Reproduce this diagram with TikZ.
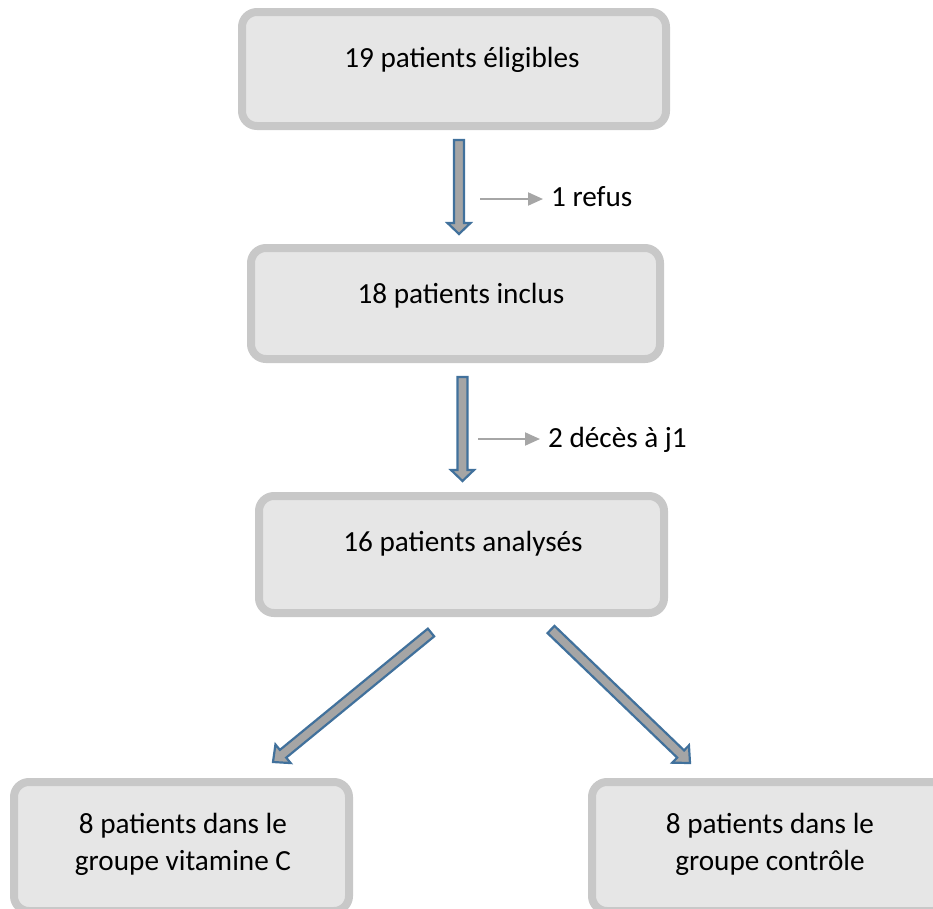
\documentclass[tikz,border=0pt]{standalone}
\usepackage{fontspec}
\setmainfont{Carlito}
\usetikzlibrary{calc,arrows.meta}
\definecolor{boxborder}{HTML}{C8C8C8}
\definecolor{boxfill}{HTML}{E6E6E6}
\definecolor{arrfill}{HTML}{A5A5A5}
\definecolor{arrline}{HTML}{41719C}
\definecolor{sidegray}{HTML}{A6A6A6}
\newcommand{\blockarr}[5]{%
  \coordinate (bah) at ($(#2)!#5!(#1)$);
  \filldraw[blockarrow] ($(#1)!#3!90:(#2)$) -- ($(bah)!#3!90:(#2)$) -- ($(bah)!#4!90:(#2)$) -- (#2) -- ($(bah)!#4!-90:(#2)$) -- ($(bah)!#3!-90:(#2)$) -- ($(#1)!#3!-90:(#2)$) -- cycle;
}
\begin{document}
\begin{tikzpicture}[x=1pt,y=-1pt,
  box/.style={draw=boxborder, fill=boxfill, line width=8pt, rounded corners=15pt, inner sep=0pt, outer sep=0pt, rectangle},
  txt/.style={font=\fontsize{29.2}{36.7}\selectfont, inner sep=0pt, text=black, align=center},
  blockarrow/.style={fill=arrfill, draw=arrline, line width=2.2pt, line join=miter},
  sidearrow/.style={draw=sidegray, line width=2pt, -{Triangle[length=15pt,width=13pt]}},
  ]
\useasboundingbox (0,0) rectangle (933,908);
\clip (0,0) rectangle (933,908);
% boxes
\node[box, minimum width=424pt, minimum height=114pt] (b1) at (454,69) {};
\node[box, minimum width=409pt, minimum height=111pt] (b2) at (455.5,303.5) {};
\node[box, minimum width=405pt, minimum height=117pt] (b3) at (461.5,554.5) {};
\node[box, minimum width=335pt, minimum height=129pt] (b4) at (181.5,846.5) {};
\node[box, minimum width=356pt, minimum height=129pt] (b5) at (770,846.5) {};
% texts
\node[txt, anchor=base] (t1) at (462,67) {19 patients éligibles};
\node[txt, anchor=base] (t2) at (461,303) {18 patients inclus};
\node[txt, anchor=base] (t3) at (463,551) {16 patients analysés};
\node[txt, anchor=base] (t4) at (183,870.5) {8 patients dans le\\groupe vitamine C};
\node[txt, anchor=base] (t5) at (770,870.5) {8 patients dans le\\groupe contrôle};
% block arrows
\coordinate (a1s) at (459,140);
\coordinate (a1t) at (459,234);
\blockarr{a1s}{a1t}{5pt}{11.5pt}{11pt}
\coordinate (a2s) at (462.5,377);
\coordinate (a2t) at (462.5,481);
\blockarr{a2s}{a2t}{5pt}{11.5pt}{11pt}
\coordinate (a3s) at (431,632.5);
\coordinate (a3t) at (273,762);
\blockarr{a3s}{a3t}{5pt}{12pt}{13pt}
\coordinate (a4s) at (551,629.5);
\coordinate (a4t) at (690,763);
\blockarr{a4s}{a4t}{5pt}{12pt}{13pt}
% side arrows and labels
\node[txt, anchor=base west] (l1) at (551,206.5) {1 refus};
\coordinate (r1s) at (480,199);
\draw[sidearrow, shorten >=8pt] (r1s) -- (r1s -| l1.west);
\node[txt, anchor=base west] (l2) at (548,447.5) {2 décès à j1};
\coordinate (r2s) at (478,439);
\draw[sidearrow, shorten >=8pt] (r2s) -- (r2s -| l2.west);
\end{tikzpicture}
\end{document}
